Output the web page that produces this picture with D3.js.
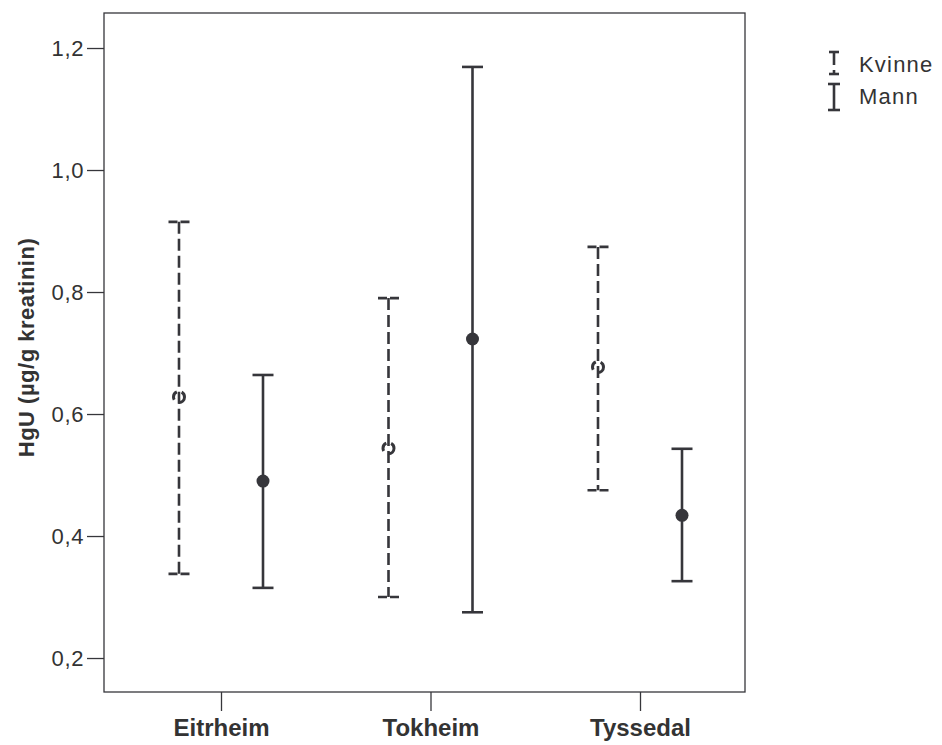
<!DOCTYPE html>
<html>
<head>
<meta charset="utf-8">
<script src="https://cdn.jsdelivr.net/npm/d3@7"></script>
<style>
  body { margin: 0; background: #fff; }
  text { font-family: "Liberation Sans", Arial, sans-serif; fill: #333; }
</style>
</head>
<body>
<div id="chart"></div>
<script>
let places = ["Eitrheim", "Tokheim", "Tyssedal"],
    groups = ["Kvinne", "Mann"],
    // mean and interval per place, per group
    kvinneMean = [0.628, 0.544, 0.677],
    kvinneLow  = [0.338, 0.300, 0.475],
    kvinneHigh = [0.915, 0.790, 0.874],
    mannMean   = [0.490, 0.723, 0.434],
    mannLow    = [0.315, 0.275, 0.326],
    mannHigh   = [0.664, 1.169, 0.543],
    yTicks = [0.2, 0.4, 0.6, 0.8, 1.0, 1.2];

let width = 942, height = 745,
    margin = {top: 13, right: 197, bottom: 53, left: 104},
    plotW = width - margin.left - margin.right,
    plotH = height - margin.top - margin.bottom,
    ink = "#36363b";

let svg = d3.select("#chart").append("svg")
  .attr("width", width)
  .attr("height", height);

let g = svg.append("g")
  .attr("transform", "translate(" + margin.left + "," + margin.top + ")");

let yScale = d3.scaleLinear()
  .domain([0.1443, 1.2574])
  .range([plotH, 0]);

let xScale = d3.scalePoint()
  .domain(places)
  .range([117, plotW - 105]);

let offset = d3.scalePoint()
  .domain(groups)
  .range([-42, 42]);

// frame
g.append("rect")
  .attr("width", plotW).attr("height", plotH)
  .attr("fill", "none").attr("stroke", ink).attr("stroke-width", 1.3);

let yAxis = g.append("g")
  .call(d3.axisLeft(yScale).tickValues(yTicks).tickSize(17).tickPadding(3)
    .tickFormat(d => d3.format(".1f")(d).replace(".", ",")));
yAxis.select(".domain").remove();
yAxis.selectAll("line").attr("stroke", ink).attr("stroke-width", 1.3);
yAxis.selectAll("text").style("font-size", "22px").style("letter-spacing", "0.6px").attr("fill", "#333");

let xAxis = g.append("g")
  .attr("transform", "translate(0," + plotH + ")")
  .call(d3.axisBottom(xScale).tickSize(19).tickPadding(8));
xAxis.select(".domain").remove();
xAxis.selectAll("line").attr("stroke", ink).attr("stroke-width", 1.3);
xAxis.selectAll("text").style("font-size", "24px").style("font-weight", "bold").attr("fill", "#333");

svg.append("text")
  .attr("transform", "translate(34," + (margin.top + plotH / 2 - 5) + ") rotate(-90)")
  .attr("text-anchor", "middle")
  .style("font-size", "22px").style("font-weight", "bold").style("letter-spacing", "0.5px")
  .text("HgU (µg/g kreatinin)");

let rows = [];
places.forEach((p, i) => {
  rows.push({place: p, group: "Kvinne", mean: kvinneMean[i], low: kvinneLow[i], high: kvinneHigh[i]});
  rows.push({place: p, group: "Mann", mean: mannMean[i], low: mannLow[i], high: mannHigh[i]});
});

let capW = 10.5;
let bars = g.selectAll(".bar").data(rows).enter().append("g")
  .attr("class", "bar")
  .attr("transform", d => "translate(" + (xScale(d.place) + offset(d.group)) + ",0)")
  .attr("stroke", ink).attr("stroke-width", 2.6);

bars.append("line")
  .attr("stroke-dasharray", d => d.group === "Kvinne" ? "12,5" : null)
  .attr("y1", d => yScale(d.high)).attr("y2", d => yScale(d.low));
bars.append("line")
  .attr("stroke-dasharray", d => d.group === "Kvinne" ? "9,3" : null)
  .attr("x1", -capW).attr("x2", capW)
  .attr("y1", d => yScale(d.high)).attr("y2", d => yScale(d.high));
bars.append("line")
  .attr("stroke-dasharray", d => d.group === "Kvinne" ? "9,3" : null)
  .attr("x1", -capW).attr("x2", capW)
  .attr("y1", d => yScale(d.low)).attr("y2", d => yScale(d.low));
bars.append("circle")
  .attr("cy", d => yScale(d.mean))
  .attr("r", d => d.group === "Kvinne" ? 5.5 : 6.5)
  .attr("fill", d => d.group === "Kvinne" ? "none" : ink)
  .attr("stroke", d => d.group === "Kvinne" ? ink : "none")
  .attr("stroke-width", 3)
  .attr("stroke-dasharray", d => d.group === "Kvinne" ? "9,5" : null);

// legend
let legend = svg.append("g").attr("transform", "translate(834,51)");
groups.forEach((grp, i) => {
  let lg = legend.append("g").attr("transform", "translate(0," + (i * 32) + ")")
    .attr("stroke", ink).attr("stroke-width", 2.6);
  if (grp === "Kvinne") {
    lg.append("line").attr("x1", -5).attr("x2", 5).attr("y1", 1).attr("y2", 1);
    lg.append("line").attr("y1", 1).attr("y2", 14);
    lg.append("line").attr("y1", 19).attr("y2", 24);
    lg.append("line").attr("x1", -5).attr("x2", 5).attr("y1", 23).attr("y2", 23);
  } else {
    lg.append("line").attr("x1", -6).attr("x2", 6).attr("y1", 1).attr("y2", 1);
    lg.append("line").attr("y1", 1).attr("y2", 27);
    lg.append("line").attr("x1", -6).attr("x2", 6).attr("y1", 27).attr("y2", 27);
  }
  legend.append("text")
    .attr("x", 25).attr("y", i * 32 + 21)
    .style("font-size", "22px").style("letter-spacing", "1.2px")
    .text(grp);
});
</script>
</body>
</html>
